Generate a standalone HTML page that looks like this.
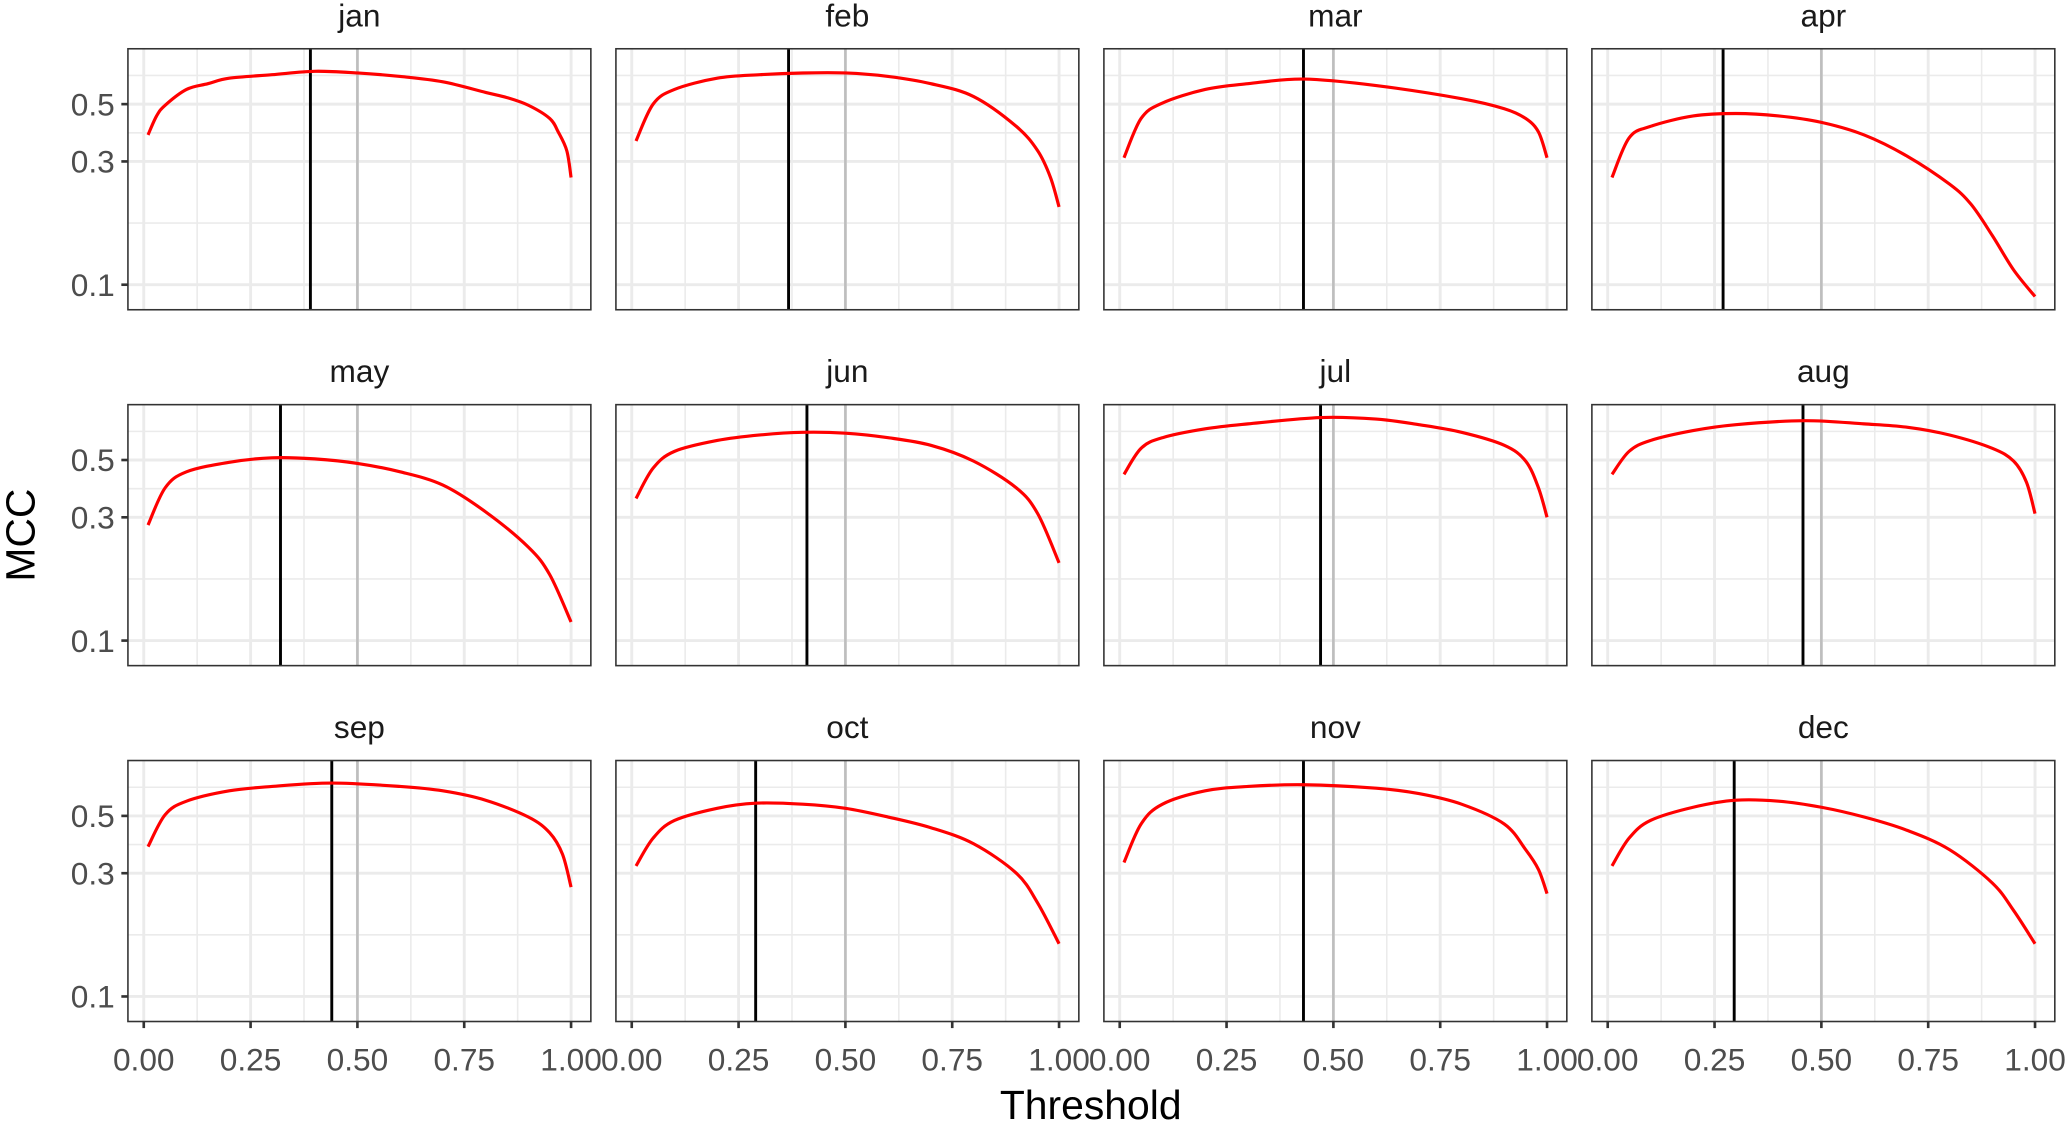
<!DOCTYPE html>
<html><head><meta charset="utf-8"><style>
html,body{margin:0;padding:0;background:#fff;}
svg{display:block;font-family:"Liberation Sans",sans-serif;}
</style></head><body>
<svg id="chart" width="2068" height="1123" viewBox="0 0 1568 852" preserveAspectRatio="none" xmlns="http://www.w3.org/2000/svg">
<rect x="0" y="0" width="1568" height="852" fill="#fff"/>
</svg>
<script>
const months = ["jan","feb","mar","apr","may","jun","jul","aug","sep","oct","nov","dec"];
const optThreshold = [0.39,0.367,0.43,0.27,0.32,0.41,0.47,0.457,0.44,0.29,0.43,0.296];
const refThreshold = 0.5;
const xTicks = [0,0.25,0.5,0.75,1];
const xTickLabels = ["0.00","0.25","0.50","0.75","1.00"];
const yTicks = [0.1,0.3,0.5];
const yTickLabels = ["0.1","0.3","0.5"];
const thrJan = [0.01,0.03,0.05,0.1,0.15,0.2,0.3,0.4,0.5,0.6,0.7,0.8,0.85,0.9,0.95,0.97,0.99,1.0];
const mccJan = [0.38,0.45,0.495,0.57,0.60,0.63,0.65,0.67,0.66,0.64,0.61,0.555,0.53,0.495,0.44,0.39,0.33,0.26];
const thrFeb = [0.01,0.05,0.1,0.2,0.3,0.4,0.5,0.6,0.7,0.8,0.9,0.95,0.98,1.0];
const mccFeb = [0.36,0.50,0.57,0.63,0.65,0.66,0.66,0.64,0.60,0.535,0.41,0.33,0.26,0.20];
const thrMar = [0.01,0.05,0.1,0.2,0.3,0.43,0.6,0.8,0.9,0.95,0.98,1.0];
const mccMar = [0.31,0.44,0.505,0.57,0.60,0.625,0.59,0.525,0.48,0.44,0.39,0.31];
const thrApr = [0.01,0.05,0.1,0.2,0.3,0.4,0.5,0.6,0.7,0.8,0.85,0.9,0.95,1.0];
const mccApr = [0.26,0.37,0.41,0.45,0.46,0.45,0.425,0.38,0.315,0.245,0.205,0.155,0.114,0.09];
const thrMay = [0.01,0.05,0.1,0.2,0.3,0.4,0.5,0.6,0.7,0.8,0.9,0.95,1.0];
const mccMay = [0.28,0.39,0.45,0.49,0.51,0.505,0.485,0.45,0.40,0.315,0.23,0.18,0.118];
const thrJun = [0.01,0.05,0.1,0.2,0.3,0.4,0.5,0.6,0.7,0.8,0.9,0.95,1.0];
const mccJun = [0.355,0.465,0.54,0.595,0.625,0.64,0.635,0.61,0.57,0.495,0.39,0.31,0.20];
const thrJul = [0.01,0.05,0.1,0.2,0.3,0.47,0.6,0.7,0.8,0.9,0.95,0.98,1.0];
const mccJul = [0.44,0.555,0.61,0.66,0.69,0.73,0.72,0.685,0.64,0.57,0.495,0.39,0.30];
const thrAug = [0.01,0.05,0.1,0.2,0.3,0.46,0.6,0.7,0.8,0.9,0.95,0.98,1.0];
const mccAug = [0.44,0.54,0.595,0.65,0.685,0.71,0.69,0.67,0.625,0.555,0.495,0.41,0.31];
const thrSep = [0.01,0.05,0.1,0.2,0.3,0.44,0.6,0.7,0.8,0.9,0.95,0.98,1.0];
const mccSep = [0.38,0.505,0.57,0.625,0.65,0.67,0.65,0.625,0.575,0.495,0.43,0.355,0.265];
const thrOct = [0.01,0.05,0.1,0.2,0.29,0.4,0.5,0.6,0.7,0.8,0.9,0.95,1.0];
const mccOct = [0.32,0.41,0.48,0.535,0.56,0.555,0.535,0.495,0.45,0.39,0.30,0.23,0.16];
const thrNov = [0.01,0.05,0.1,0.2,0.3,0.43,0.6,0.7,0.8,0.9,0.95,0.98,1.0];
const mccNov = [0.33,0.465,0.555,0.625,0.65,0.66,0.64,0.61,0.555,0.465,0.37,0.31,0.25];
const thrDec = [0.01,0.05,0.1,0.2,0.3,0.4,0.5,0.6,0.7,0.8,0.9,0.95,1.0];
const mccDec = [0.32,0.41,0.48,0.54,0.575,0.57,0.54,0.495,0.44,0.37,0.275,0.215,0.16];
const thresholds = [thrJan,thrFeb,thrMar,thrApr,thrMay,thrJun,thrJul,thrAug,thrSep,thrOct,thrNov,thrDec];
const mccValues = [mccJan,mccFeb,mccMar,mccApr,mccMay,mccJun,mccJul,mccAug,mccSep,mccOct,mccNov,mccDec];

const NS = "http://www.w3.org/2000/svg";
const svg = document.getElementById("chart");
const colLeft = [97,467,837,1207], rowTop = [37,307,577], PW = 351, PH = 198;
function mk(tag, attrs, parent){const e=document.createElementNS(NS,tag);for(const k in attrs)e.setAttribute(k,attrs[k]);(parent||svg).appendChild(e);return e;}
function xScale(left,v){return left+12+v*324;}
function yScale(top,v){return top+179-(Math.log10(v)+1)*196;}
function smoothPath(pts){
  let d="M"+pts[0][0].toFixed(2)+","+pts[0][1].toFixed(2);
  for(let i=0;i<pts.length-1;i++){
    const p0=pts[Math.max(i-1,0)],p1=pts[i],p2=pts[i+1],p3=pts[Math.min(i+2,pts.length-1)];
    const c1=[p1[0]+(p2[0]-p0[0])/6,p1[1]+(p2[1]-p0[1])/6];
    const c2=[p2[0]-(p3[0]-p1[0])/6,p2[1]-(p3[1]-p1[1])/6];
    d+=" C"+c1[0].toFixed(2)+","+c1[1].toFixed(2)+" "+c2[0].toFixed(2)+","+c2[1].toFixed(2)+" "+p2[0].toFixed(2)+","+p2[1].toFixed(2);
  }
  return d;
}
months.forEach((m,i)=>{
  const L=colLeft[i%4], T=rowTop[Math.floor(i/4)];
  const g=mk("g",{});
  
  
  // minor grids
  for(let k=0;k<4;k++){const v=0.125+k*0.25;const x=xScale(L,v);mk("line",{x1:x,x2:x,y1:T,y2:T+PH,stroke:"#ebebeb","stroke-width":1.2},g);}
  [Math.sqrt(0.03),Math.sqrt(0.15),Math.pow(10,(Math.log10(0.5)*1.5-Math.log10(0.3)*0.5))].forEach(v=>{const y=yScale(T,v);mk("line",{x1:L,x2:L+PW,y1:y,y2:y,stroke:"#ebebeb","stroke-width":1.2},g);});
  // major grids
  xTicks.forEach(v=>{const x=xScale(L,v);mk("line",{x1:x,x2:x,y1:T,y2:T+PH,stroke:"#ebebeb","stroke-width":2.2},g);});
  yTicks.forEach(v=>{const y=yScale(T,v);mk("line",{x1:L,x2:L+PW,y1:y,y2:y,stroke:"#ebebeb","stroke-width":2.2},g);});
  // ref lines
  const rx=xScale(L,refThreshold);
  const rl=mk("line",{x1:rx,x2:rx,y1:T,y2:T+PH,stroke:"#bebebe","stroke-width":2},g);
  
  
  const ox=xScale(L,optThreshold[i]);
  const ol=mk("line",{x1:ox,x2:ox,y1:T,y2:T+PH,stroke:"#000","stroke-width":2.2},g);
  
  
  // curve
  const pts=thresholds[i].map((t,j)=>[xScale(L,t),yScale(T,mccValues[i][j])]);
  const c=mk("path",{d:smoothPath(pts),fill:"none",stroke:"#ff0000","stroke-width":2.4},g);
  
  
  // border
  mk("rect",{x:L,y:T,width:PW,height:PH,fill:"none",stroke:"#333","stroke-width":1.2},g);
  // strip
  const s=mk("text",{x:L+PW/2,y:T-17,"text-anchor":"middle","font-size":24,fill:"#1a1a1a"},g);
  s.textContent=m;
  
  
  if(i%4===0){
    yTicks.forEach((v,k)=>{const y=yScale(T,v);
      mk("line",{x1:L-5,x2:L,y1:y,y2:y,stroke:"#333","stroke-width":2},g);
      const t=mk("text",{x:L-10,y:y+8.5,"text-anchor":"end","font-size":24,fill:"#4d4d4d"},g);
      t.textContent=yTickLabels[k];
      
      
    });
  }
  if(i>=8){
    xTicks.forEach((v,k)=>{const x=xScale(L,v);
      mk("line",{x1:x,x2:x,y1:T+PH,y2:T+PH+5,stroke:"#333","stroke-width":2},g);
      const t=mk("text",{x:x,y:812,"text-anchor":"middle","font-size":24,fill:"#4d4d4d"},g);
      t.textContent=xTickLabels[k];
      
      
    });
  }
});
const xt=mk("text",{x:827,y:849,"text-anchor":"middle","font-size":31,fill:"#000"});
xt.textContent="Threshold";


const yt=mk("text",{x:0,y:0,"text-anchor":"middle","font-size":31,fill:"#000",transform:"translate(26,406) rotate(-90)"});
yt.textContent="MCC";


</script>
</body></html>
